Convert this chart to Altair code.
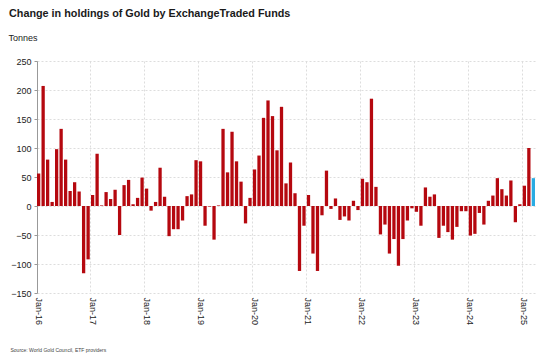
import altair as alt
import pandas as pd

month_names = ["Jan", "Feb", "Mar", "Apr", "May", "Jun",
               "Jul", "Aug", "Sep", "Oct", "Nov", "Dec"]
years = ["16", "17", "18", "19", "20", "21", "22", "23", "24", "25"]

v2016 = [56, 207, 80, 7, 98, 133, 80, 26, 41, 25, -116, -92]
v2017 = [19, 90, 1, 24, 12, 28, -50, 36, 45, 3, 14, 49]
v2018 = [30, -8, 7, 66, 16, -52, -40, -40, -25, 17, 20, 79]
v2019 = [77, -34, -1, -58, 1, 133, 58, 128, 77, 42, -30, 14]
v2020 = [63, 87, 152, 182, 155, 96, 171, 39, 75, 22, -112, -34]
v2021 = [19, -82, -112, -16, 61, -5, 13, -24, -18, -25, 9, -7]
v2022 = [47, 41, 185, 33, -49, -32, -82, -57, -103, -57, -25, -4]
v2023 = [-10, -34, 32, 16, 20, -55, -34, -45, -58, -36, -9, -9]
v2024 = [-51, -48, -12, -32, 9, 18, 48, 29, 18, 44, -28, 3]
v2025 = [35, 100, 48]

all_values = v2016 + v2017 + v2018 + v2019 + v2020 + v2021 + v2022 + v2023 + v2024 + v2025
labels = [f"{m}-{y}" for y in years for m in month_names][:len(all_values)]
kinds = ["actual"] * (len(all_values) - 1) + ["latest"]
jan_labels = [f"Jan-{y}" for y in years]

df = pd.DataFrame({"month": labels, "tonnes": all_values, "kind": kinds})

FONT = "Liberation Sans"

chart = alt.Chart(df).mark_bar().encode(
    x=alt.X("month:N", sort=labels,
            scale=alt.Scale(paddingInner=0.27, paddingOuter=0),
            axis=alt.Axis(values=jan_labels, labelAngle=90, bandPosition=0,
                          domain=False, ticks=False, grid=True,
                          gridColor="#dddddd", gridDash=[2, 2],
                          labelFont=FONT, labelFontSize=9, labelColor="#222",
                          labelPadding=4,
                          title="Source: World Gold Council, ETF providers",
                          titleFont=FONT, titleFontSize=5, titleFontWeight="normal",
                          titleColor="#444", titleAnchor="start", titleAlign="left",
                          titleX=-27, titleY=54)),
    y=alt.Y("tonnes:Q",
            scale=alt.Scale(domain=[-150, 250], nice=False, zero=True),
            axis=alt.Axis(values=list(range(-150, 251, 50)), grid=True,
                          gridColor="#dddddd", gridDash=[2, 2],
                          domainColor="#999999", tickColor="#999999", tickSize=3,
                          labelFont=FONT, labelFontSize=9, labelColor="#222",
                          labelPadding=3,
                          title="Tonnes", titleAngle=0, titleAlign="left",
                          titleBaseline="middle", titleFont=FONT, titleFontSize=9,
                          titleFontWeight="normal", titleColor="#222",
                          titleX=-29, titleY=-24)),
    color=alt.Color("kind:N",
                    scale=alt.Scale(domain=["actual", "latest"],
                                    range=["#b5080f", "#29abe2"]),
                    legend=None),
).properties(
    width=498,
    height=232,
    title=alt.TitleParams(
        text="Change in holdings of Gold by ExchangeTraded Funds",
        anchor="start", font=FONT, fontSize=10.8, fontWeight="bold",
        color="#1a1a1a", dx=1, offset=14),
    padding={"left": 29, "top": 53, "right": 11, "bottom": 61},
    autosize=alt.AutoSizeParams(type="none"),
).configure_view(stroke=None)

chart.save("out.html", embed_options={"renderer": "svg", "actions": False})
